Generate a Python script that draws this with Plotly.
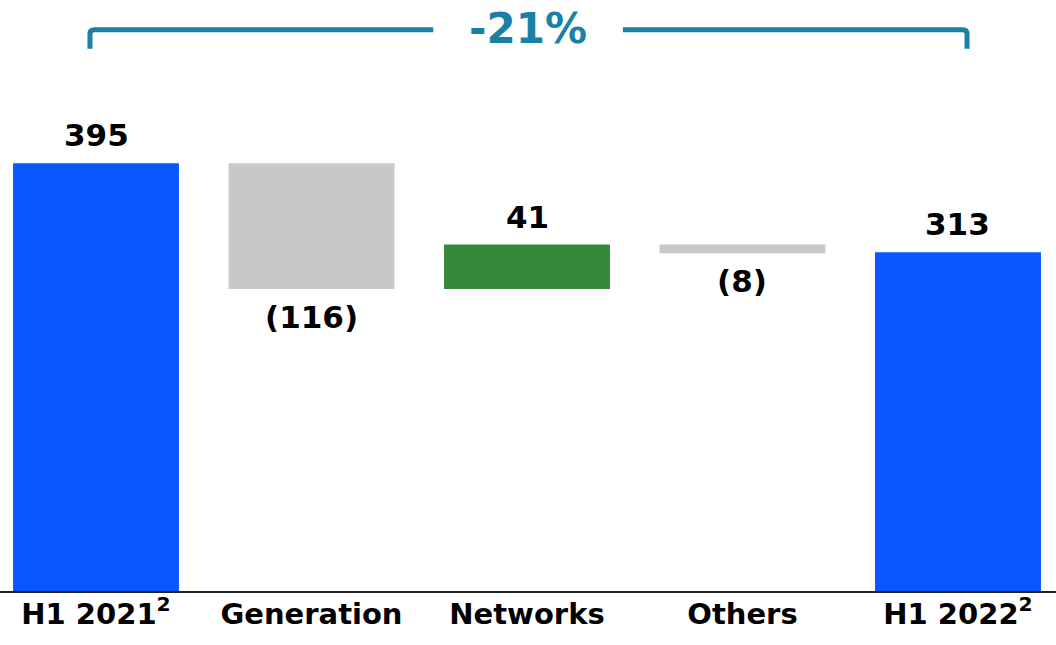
import plotly.graph_objects as go

categories = ["H1 2021<sup>2</sup>", "Generation", "Networks", "Others", "H1 2022<sup>2</sup>"]
values = [395, -116, 41, -8, 313]
measures = ["absolute", "relative", "relative", "relative", "absolute"]
labels = ["395", "(116)", "41", "(8)", "313"]

BLUE = "#0A56FF"
GREY = "#C8C8C8"
GREEN = "#33883A"
TEAL = "#1A80A5"
FONT = "DejaVu Sans"

x = list(range(len(categories)))

fig = go.Figure()
fig.add_trace(go.Waterfall(
    x=x, y=values, measure=measures, width=0.77,
    totals=dict(marker=dict(color=BLUE)),
    increasing=dict(marker=dict(color=GREEN)),
    decreasing=dict(marker=dict(color=GREY)),
    connector=dict(visible=False),
    hoverinfo="skip", showlegend=False,
))

# compute bar extents for labels
running = 0
for i, (v, m, lab) in enumerate(zip(values, measures, labels)):
    if m == "absolute":
        lo, hi = 0, v
        running = v
    else:
        lo, hi = sorted([running, running + v])
        running += v
    if v >= 0:
        fig.add_annotation(x=i, y=hi, text=lab, showarrow=False, yanchor="bottom",
                           yshift=8, font=dict(family=FONT, size=31, color="black", weight="bold"))
    else:
        fig.add_annotation(x=i, y=lo, text=lab, showarrow=False, yanchor="top",
                           yshift=-8, font=dict(family=FONT, size=31, color="black", weight="bold"))

# bracket with change percentage
pct = (values[-1] - values[0]) / values[0] * 100
pct_text = f"{pct:.0f}%"
yb_top = 518.5
yb_bot = 500.9
xl = x[0] - 0.028
xr = x[-1] + 0.042
xc = (x[0] + x[-1]) / 2 + 0.005
gap = 0.44
rx, ry = 0.02, 3.7
path_left = (f"M {xl},{yb_bot} L {xl},{yb_top - ry} Q {xl},{yb_top} {xl + rx},{yb_top} "
             f"L {xc - gap},{yb_top}")
path_right = (f"M {xc + gap},{yb_top} L {xr - rx},{yb_top} Q {xr},{yb_top} {xr},{yb_top - ry} "
              f"L {xr},{yb_bot}")
for p in (path_left, path_right):
    fig.add_shape(type="path", path=p, xref="x", yref="y",
                  line=dict(color=TEAL, width=5), layer="above")
fig.add_annotation(x=xc, y=yb_top, text=pct_text, showarrow=False, yanchor="middle",
                   yshift=1, font=dict(family=FONT, size=42, color=TEAL, weight="bold"))

fig.update_layout(
    width=1056, height=645,
    margin=dict(l=0, r=0, t=0, b=53.5, pad=0, autoexpand=False),
    paper_bgcolor="white", plot_bgcolor="white",
    xaxis=dict(range=[-0.4455, 4.4548], tickvals=x, ticktext=categories,
               showline=True, linecolor="#222222", linewidth=1.5, showgrid=False,
               zeroline=False, ticks="", automargin=False, ticklabelstandoff=-4,
               tickfont=dict(family=FONT, size=29, color="black", weight="bold")),
    yaxis=dict(range=[0, 545.9], visible=False, showgrid=False, zeroline=False,
               automargin=False),
)

fig.write_html("out.html", config={"displayModeBar": False},
               post_script="document.body.style.margin='0';")
